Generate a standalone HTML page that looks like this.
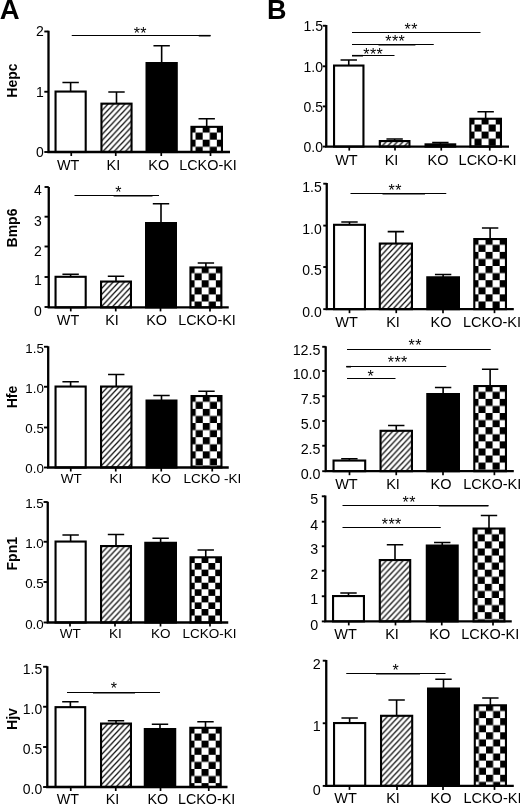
<!DOCTYPE html>
<html><head><meta charset="utf-8"><title>Figure</title>
<style>html,body{margin:0;padding:0;background:#fff;overflow:hidden}svg{display:block}text{font-family:"Liberation Sans", sans-serif;fill:#000}</style></head>
<body>
<svg width="520" height="805" viewBox="0 0 520 805">
<defs><pattern id="h0" patternUnits="userSpaceOnUse" x="101.45" y="105.15" width="5.6" height="6.0"><rect width="5.6" height="6.0" fill="#fff"/><path d="M-5.6,6.0 L5.6,-6.0 M0,6.0 L5.6,0 M0,12.0 L11.2,0" stroke="#111" stroke-width="1.3"/></pattern><pattern id="c0" patternUnits="userSpaceOnUse" x="188.52" y="125.52" width="14.16" height="14.16"><rect width="14.16" height="14.16" fill="#fff"/><rect width="7.08" height="7.08" fill="#000"/><rect x="7.08" y="7.08" width="7.08" height="7.08" fill="#000"/></pattern><pattern id="h1" patternUnits="userSpaceOnUse" x="379.8" y="142.55" width="5.6" height="6.0"><rect width="5.6" height="6.0" fill="#fff"/><path d="M-5.6,6.0 L5.6,-6.0 M0,6.0 L5.6,0 M0,12.0 L11.2,0" stroke="#111" stroke-width="1.3"/></pattern><pattern id="c1" patternUnits="userSpaceOnUse" x="467.42" y="117.42" width="14.16" height="14.16"><rect width="14.16" height="14.16" fill="#fff"/><rect width="7.08" height="7.08" fill="#000"/><rect x="7.08" y="7.08" width="7.08" height="7.08" fill="#000"/></pattern><pattern id="h2" patternUnits="userSpaceOnUse" x="101.05" y="283.05" width="5.6" height="6.0"><rect width="5.6" height="6.0" fill="#fff"/><path d="M-5.6,6.0 L5.6,-6.0 M0,6.0 L5.6,0 M0,12.0 L11.2,0" stroke="#111" stroke-width="1.3"/></pattern><pattern id="c2" patternUnits="userSpaceOnUse" x="187.52" y="266.12" width="14.16" height="14.16"><rect width="14.16" height="14.16" fill="#fff"/><rect width="7.08" height="7.08" fill="#000"/><rect x="7.08" y="7.08" width="7.08" height="7.08" fill="#000"/></pattern><pattern id="h3" patternUnits="userSpaceOnUse" x="379.8" y="245.05" width="5.6" height="6.0"><rect width="5.6" height="6.0" fill="#fff"/><path d="M-5.6,6.0 L5.6,-6.0 M0,6.0 L5.6,0 M0,12.0 L11.2,0" stroke="#111" stroke-width="1.3"/></pattern><pattern id="c3" patternUnits="userSpaceOnUse" x="471.37" y="237.72" width="14.16" height="14.16"><rect width="14.16" height="14.16" fill="#fff"/><rect width="7.08" height="7.08" fill="#000"/><rect x="7.08" y="7.08" width="7.08" height="7.08" fill="#000"/></pattern><pattern id="h4" patternUnits="userSpaceOnUse" x="101.05" y="388.05" width="5.6" height="6.0"><rect width="5.6" height="6.0" fill="#fff"/><path d="M-5.6,6.0 L5.6,-6.0 M0,6.0 L5.6,0 M0,12.0 L11.2,0" stroke="#111" stroke-width="1.3"/></pattern><pattern id="c4" patternUnits="userSpaceOnUse" x="188.62" y="394.72" width="14.16" height="14.16"><rect width="14.16" height="14.16" fill="#fff"/><rect width="7.08" height="7.08" fill="#000"/><rect x="7.08" y="7.08" width="7.08" height="7.08" fill="#000"/></pattern><pattern id="h5" patternUnits="userSpaceOnUse" x="380.55" y="432.3" width="5.6" height="6.0"><rect width="5.6" height="6.0" fill="#fff"/><path d="M-5.6,6.0 L5.6,-6.0 M0,6.0 L5.6,0 M0,12.0 L11.2,0" stroke="#111" stroke-width="1.3"/></pattern><pattern id="c5" patternUnits="userSpaceOnUse" x="471.37" y="384.72" width="14.16" height="14.16"><rect width="14.16" height="14.16" fill="#fff"/><rect width="7.08" height="7.08" fill="#000"/><rect x="7.08" y="7.08" width="7.08" height="7.08" fill="#000"/></pattern><pattern id="h6" patternUnits="userSpaceOnUse" x="101.05" y="547.55" width="5.6" height="6.0"><rect width="5.6" height="6.0" fill="#fff"/><path d="M-5.6,6.0 L5.6,-6.0 M0,6.0 L5.6,0 M0,12.0 L11.2,0" stroke="#111" stroke-width="1.3"/></pattern><pattern id="c6" patternUnits="userSpaceOnUse" x="187.85" y="556.49" width="13.7" height="13.12"><rect width="13.7" height="13.12" fill="#fff"/><rect width="6.85" height="6.56" fill="#000"/><rect x="6.85" y="6.56" width="6.85" height="6.56" fill="#000"/></pattern><pattern id="h7" patternUnits="userSpaceOnUse" x="379.8" y="561.55" width="5.6" height="6.0"><rect width="5.6" height="6.0" fill="#fff"/><path d="M-5.6,6.0 L5.6,-6.0 M0,6.0 L5.6,0 M0,12.0 L11.2,0" stroke="#111" stroke-width="1.3"/></pattern><pattern id="c7" patternUnits="userSpaceOnUse" x="470.62" y="527.22" width="14.16" height="14.16"><rect width="14.16" height="14.16" fill="#fff"/><rect width="7.08" height="7.08" fill="#000"/><rect x="7.08" y="7.08" width="7.08" height="7.08" fill="#000"/></pattern><pattern id="h8" patternUnits="userSpaceOnUse" x="101.05" y="725.05" width="5.6" height="6.0"><rect width="5.6" height="6.0" fill="#fff"/><path d="M-5.6,6.0 L5.6,-6.0 M0,6.0 L5.6,0 M0,12.0 L11.2,0" stroke="#111" stroke-width="1.3"/></pattern><pattern id="c8" patternUnits="userSpaceOnUse" x="187.37" y="726.47" width="14.16" height="14.16"><rect width="14.16" height="14.16" fill="#fff"/><rect width="7.08" height="7.08" fill="#000"/><rect x="7.08" y="7.08" width="7.08" height="7.08" fill="#000"/></pattern><pattern id="h9" patternUnits="userSpaceOnUse" x="381.05" y="717.3" width="5.6" height="6.0"><rect width="5.6" height="6.0" fill="#fff"/><path d="M-5.6,6.0 L5.6,-6.0 M0,6.0 L5.6,0 M0,12.0 L11.2,0" stroke="#111" stroke-width="1.3"/></pattern><pattern id="c9" patternUnits="userSpaceOnUse" x="471.87" y="703.97" width="14.16" height="14.16"><rect width="14.16" height="14.16" fill="#fff"/><rect width="7.08" height="7.08" fill="#000"/><rect x="7.08" y="7.08" width="7.08" height="7.08" fill="#000"/></pattern></defs>
<rect width="520" height="805" fill="#fff"/>
<text x="-0.3" y="18.7" font-size="27.5" font-weight="bold">A</text>
<text x="266.9" y="19.2" font-size="27" font-weight="bold">B</text>
<g id="A1"><path d="M70.62,91.55 V82.5 M62.42,82.5 H78.83" stroke="#000" stroke-width="1.6" fill="none"/><path d="M116.5,103.65 V92 M108.3,92 H124.7" stroke="#000" stroke-width="1.6" fill="none"/><path d="M161.65,63.05 V45.75 M153.45,45.75 H169.85" stroke="#000" stroke-width="1.6" fill="none"/><path d="M206.7,126.85 V118.75 M198.5,118.75 H214.9" stroke="#000" stroke-width="1.6" fill="none"/><rect x="55.55" y="91.55" width="30.15" height="60.45" fill="#fff" stroke="#000" stroke-width="2.1"/><rect x="101.45" y="103.65" width="30.1" height="48.35" fill="url(#h0)" stroke="#000" stroke-width="2.1"/><rect x="146.55" y="63.05" width="30.2" height="88.95" fill="#000" stroke="#000" stroke-width="2.1"/><rect x="191.45" y="126.85" width="30.5" height="25.15" fill="url(#c0)" stroke="#000" stroke-width="2.1"/><path d="M48.5,30.8 V152 H230" stroke="#000" stroke-width="2.3" fill="none"/><path d="M44.3,152 H48.5" stroke="#000" stroke-width="1.9"/><text x="43.7" y="156.81" font-size="14" text-anchor="end">0</text><path d="M44.3,91.75 H48.5" stroke="#000" stroke-width="1.9"/><text x="43.7" y="96.56" font-size="14" text-anchor="end">1</text><path d="M44.3,31.5 H48.5" stroke="#000" stroke-width="1.9"/><text x="43.7" y="36.31" font-size="14" text-anchor="end">2</text><path d="M71.25,152 V156" stroke="#000" stroke-width="1.7"/><path d="M115.75,152 V156" stroke="#000" stroke-width="1.7"/><path d="M161.25,152 V156" stroke="#000" stroke-width="1.7"/><path d="M210.5,152 V156" stroke="#000" stroke-width="1.7"/><text x="68.1" y="169.7" font-size="14.4" text-anchor="middle">WT</text><text x="113.4" y="169.7" font-size="14.4" text-anchor="middle">KI</text><text x="158.75" y="169.7" font-size="14.4" text-anchor="middle">KO</text><text x="208" y="169.7" font-size="14.4" text-anchor="middle">LCKO-KI</text><path d="M71.75,35.5 H210.5" stroke="#000" stroke-width="1.2"/><path d="M198.75,35.7 H210.5" stroke="#000" stroke-width="1.6"/><text x="140.3" y="38.5" font-size="16" letter-spacing="0.4" text-anchor="middle">**</text><text transform="translate(17.2,80.6) rotate(-90)" font-size="14" font-weight="bold" text-anchor="middle">Hepc</text></g>
<g id="B1"><path d="M348.75,65.55 V60 M340.55,60 H356.95" stroke="#000" stroke-width="1.6" fill="none"/><path d="M394.62,141.05 V139 M386.43,139 H402.82" stroke="#000" stroke-width="1.6" fill="none"/><path d="M440.38,144.35 V142.6 M432.18,142.6 H448.57" stroke="#000" stroke-width="1.6" fill="none"/><path d="M485.65,118.75 V111.75 M477.45,111.75 H493.85" stroke="#000" stroke-width="1.6" fill="none"/><rect x="334.05" y="65.55" width="29.4" height="81.05" fill="#fff" stroke="#000" stroke-width="2.1"/><rect x="379.8" y="141.05" width="29.65" height="5.55" fill="url(#h1)" stroke="#000" stroke-width="2.1"/><rect x="425.55" y="144.35" width="29.65" height="2.25" fill="#000" stroke="#000" stroke-width="2.1"/><rect x="470.35" y="118.75" width="30.6" height="27.85" fill="url(#c1)" stroke="#000" stroke-width="2.1"/><path d="M326.25,25 V146.6 H509" stroke="#000" stroke-width="2.3" fill="none"/><path d="M322.75,146.6 H326.25" stroke="#000" stroke-width="1.9"/><text x="322.95" y="152.21" font-size="14" text-anchor="end">0.0</text><path d="M322.75,106.4 H326.25" stroke="#000" stroke-width="1.9"/><text x="322.95" y="112.01" font-size="14" text-anchor="end">0.5</text><path d="M322.75,66.3 H326.25" stroke="#000" stroke-width="1.9"/><text x="322.95" y="71.91" font-size="14" text-anchor="end">1.0</text><path d="M322.75,25.75 H326.25" stroke="#000" stroke-width="1.9"/><text x="322.95" y="31.36" font-size="14" text-anchor="end">1.5</text><path d="M349.25,146.6 V150.6" stroke="#000" stroke-width="1.7"/><path d="M395,146.6 V150.6" stroke="#000" stroke-width="1.7"/><path d="M441.25,146.6 V150.6" stroke="#000" stroke-width="1.7"/><path d="M489.75,146.6 V150.6" stroke="#000" stroke-width="1.7"/><text x="346.4" y="164.7" font-size="14.5" text-anchor="middle">WT</text><text x="391.5" y="164.7" font-size="14.5" text-anchor="middle">KI</text><text x="438" y="164.7" font-size="14.5" text-anchor="middle">KO</text><text x="487.6" y="164.7" font-size="14.5" text-anchor="middle">LCKO-KI</text><path d="M352,32.5 H480.5" stroke="#000" stroke-width="1.2"/><path d="M352,44.5 H433.75" stroke="#000" stroke-width="1.2"/><path d="M378.5,44.7 H415.4" stroke="#000" stroke-width="1.6"/><path d="M352,55.5 H394.5" stroke="#000" stroke-width="1.2"/><path d="M352,55.7 H363" stroke="#000" stroke-width="1.6"/><text x="411.2" y="35.3" font-size="16" letter-spacing="0.4" text-anchor="middle">**</text><text x="395.2" y="46.6" font-size="16" letter-spacing="0.4" text-anchor="middle">***</text><text x="373.3" y="59.7" font-size="16" letter-spacing="0.4" text-anchor="middle">***</text></g>
<g id="A2"><path d="M70.62,276.8 V274.25 M62.42,274.25 H78.83" stroke="#000" stroke-width="1.6" fill="none"/><path d="M116,281.55 V276.25 M107.8,276.25 H124.2" stroke="#000" stroke-width="1.6" fill="none"/><path d="M161,223.05 V203.75 M152.8,203.75 H169.2" stroke="#000" stroke-width="1.6" fill="none"/><path d="M205.9,267.45 V263 M197.7,263 H214.1" stroke="#000" stroke-width="1.6" fill="none"/><rect x="55.55" y="276.8" width="30.15" height="30.6" fill="#fff" stroke="#000" stroke-width="2.1"/><rect x="101.05" y="281.55" width="29.9" height="25.85" fill="url(#h2)" stroke="#000" stroke-width="2.1"/><rect x="146.05" y="223.05" width="29.9" height="84.35" fill="#000" stroke="#000" stroke-width="2.1"/><rect x="190.45" y="267.45" width="30.9" height="39.95" fill="url(#c2)" stroke="#000" stroke-width="2.1"/><path d="M48.75,187 V307.4 H228.75" stroke="#000" stroke-width="2.3" fill="none"/><path d="M44.55,307 H48.75" stroke="#000" stroke-width="1.9"/><text x="41.85" y="315.51" font-size="14" text-anchor="end">0</text><path d="M44.55,277 H48.75" stroke="#000" stroke-width="1.9"/><text x="41.85" y="285.31" font-size="14" text-anchor="end">1</text><path d="M44.55,246.5 H48.75" stroke="#000" stroke-width="1.9"/><text x="41.85" y="255.71" font-size="14" text-anchor="end">2</text><path d="M44.55,216.7 H48.75" stroke="#000" stroke-width="1.9"/><text x="41.85" y="225.51" font-size="14" text-anchor="end">3</text><path d="M44.55,187 H48.75" stroke="#000" stroke-width="1.9"/><text x="41.85" y="194.81" font-size="14" text-anchor="end">4</text><path d="M70.75,307.4 V311.4" stroke="#000" stroke-width="1.7"/><path d="M115.75,307.4 V311.4" stroke="#000" stroke-width="1.7"/><path d="M160.5,307.4 V311.4" stroke="#000" stroke-width="1.7"/><path d="M210,307.4 V311.4" stroke="#000" stroke-width="1.7"/><text x="68" y="324.5" font-size="14.4" text-anchor="middle">WT</text><text x="112" y="324.5" font-size="14.4" text-anchor="middle">KI</text><text x="156.6" y="324.5" font-size="14.4" text-anchor="middle">KO</text><text x="207" y="324.5" font-size="14.4" text-anchor="middle">LCKO-KI</text><path d="M74.5,195.5 H159" stroke="#000" stroke-width="1.2"/><path d="M113.6,195.7 H152.5" stroke="#000" stroke-width="1.6"/><text x="118.6" y="197.7" font-size="16" letter-spacing="0.4" text-anchor="middle">*</text><text transform="translate(17.2,228) rotate(-90)" font-size="14" font-weight="bold" text-anchor="middle">Bmp6</text></g>
<g id="B2"><path d="M349.5,224.8 V222 M341.3,222 H357.7" stroke="#000" stroke-width="1.6" fill="none"/><path d="M395.88,243.55 V231.6 M387.68,231.6 H404.07" stroke="#000" stroke-width="1.6" fill="none"/><path d="M443.12,277.3 V274.5 M434.93,274.5 H451.32" stroke="#000" stroke-width="1.6" fill="none"/><path d="M490.12,239.05 V228 M481.93,228 H498.32" stroke="#000" stroke-width="1.6" fill="none"/><rect x="334.05" y="224.8" width="30.9" height="84.35" fill="#fff" stroke="#000" stroke-width="2.1"/><rect x="379.8" y="243.55" width="32.15" height="65.6" fill="url(#h3)" stroke="#000" stroke-width="2.1"/><rect x="427.3" y="277.3" width="31.65" height="31.85" fill="#000" stroke="#000" stroke-width="2.1"/><rect x="474.3" y="239.05" width="31.65" height="70.1" fill="url(#c3)" stroke="#000" stroke-width="2.1"/><path d="M326.75,183 V309.15 H513.8" stroke="#000" stroke-width="2.3" fill="none"/><path d="M323.25,309.15 H326.75" stroke="#000" stroke-width="1.9"/><text x="321.75" y="317.16" font-size="14" text-anchor="end">0.0</text><path d="M323.25,267 H326.75" stroke="#000" stroke-width="1.9"/><text x="321.75" y="275.41" font-size="14" text-anchor="end">0.5</text><path d="M323.25,225.6 H326.75" stroke="#000" stroke-width="1.9"/><text x="321.75" y="234.01" font-size="14" text-anchor="end">1.0</text><path d="M323.25,183.7 H326.75" stroke="#000" stroke-width="1.9"/><text x="321.75" y="192.41" font-size="14" text-anchor="end">1.5</text><path d="M349.5,309.15 V313.15" stroke="#000" stroke-width="1.7"/><path d="M396.25,309.15 V313.15" stroke="#000" stroke-width="1.7"/><path d="M443,309.15 V313.15" stroke="#000" stroke-width="1.7"/><path d="M494.5,309.15 V313.15" stroke="#000" stroke-width="1.7"/><text x="346.6" y="326.7" font-size="14.5" text-anchor="middle">WT</text><text x="393" y="326.7" font-size="14.5" text-anchor="middle">KI</text><text x="441" y="326.7" font-size="14.5" text-anchor="middle">KO</text><text x="492" y="326.7" font-size="14.5" text-anchor="middle">LCKO-KI</text><path d="M350.5,193.5 H446.25" stroke="#000" stroke-width="1.2"/><path d="M382.5,193.7 H425" stroke="#000" stroke-width="1.6"/><text x="395.2" y="195.7" font-size="16" letter-spacing="0.4" text-anchor="middle">**</text></g>
<g id="A3"><path d="M70.62,386.55 V381.75 M62.42,381.75 H78.83" stroke="#000" stroke-width="1.6" fill="none"/><path d="M116.25,386.55 V374.5 M108.05,374.5 H124.45" stroke="#000" stroke-width="1.6" fill="none"/><path d="M161.5,400.55 V395.5 M153.3,395.5 H169.7" stroke="#000" stroke-width="1.6" fill="none"/><path d="M206.5,396.05 V391.25 M198.3,391.25 H214.7" stroke="#000" stroke-width="1.6" fill="none"/><rect x="55.55" y="386.55" width="30.15" height="80.95" fill="#fff" stroke="#000" stroke-width="2.1"/><rect x="101.05" y="386.55" width="30.4" height="80.95" fill="url(#h4)" stroke="#000" stroke-width="2.1"/><rect x="146.55" y="400.55" width="29.9" height="66.95" fill="#000" stroke="#000" stroke-width="2.1"/><rect x="191.55" y="396.05" width="29.9" height="71.45" fill="url(#c4)" stroke="#000" stroke-width="2.1"/><path d="M48.2,346.25 V467.5 H228.75" stroke="#000" stroke-width="2.3" fill="none"/><path d="M44,467.5 H48.2" stroke="#000" stroke-width="1.9"/><text x="43.8" y="473.46" font-size="13.3" text-anchor="end">0.0</text><path d="M44,427.5 H48.2" stroke="#000" stroke-width="1.9"/><text x="43.8" y="433.46" font-size="13.3" text-anchor="end">0.5</text><path d="M44,386.75 H48.2" stroke="#000" stroke-width="1.9"/><text x="43.8" y="392.71" font-size="13.3" text-anchor="end">1.0</text><path d="M44,346.75 H48.2" stroke="#000" stroke-width="1.9"/><text x="43.8" y="352.71" font-size="13.3" text-anchor="end">1.5</text><path d="M70.75,467.5 V471.5" stroke="#000" stroke-width="1.7"/><path d="M115.75,467.5 V471.5" stroke="#000" stroke-width="1.7"/><path d="M161.25,467.5 V471.5" stroke="#000" stroke-width="1.7"/><path d="M212.25,467.5 V471.5" stroke="#000" stroke-width="1.7"/><text x="71.25" y="482.75" font-size="13.5" text-anchor="middle">WT</text><text x="116" y="482.75" font-size="13.5" text-anchor="middle">KI</text><text x="161.25" y="482.75" font-size="13.5" text-anchor="middle">KO</text><text x="212.5" y="482.75" font-size="13.5" text-anchor="middle">LCKO -KI</text><text transform="translate(17.2,397) rotate(-90)" font-size="14" font-weight="bold" text-anchor="middle">Hfe</text></g>
<g id="B3"><path d="M349.38,460.55 V458.7 M341.18,458.7 H357.57" stroke="#000" stroke-width="1.6" fill="none"/><path d="M396.25,430.8 V425.5 M388.05,425.5 H404.45" stroke="#000" stroke-width="1.6" fill="none"/><path d="M443.12,394.05 V387.5 M434.93,387.5 H451.32" stroke="#000" stroke-width="1.6" fill="none"/><path d="M490.12,386.05 V369.25 M481.93,369.25 H498.32" stroke="#000" stroke-width="1.6" fill="none"/><rect x="333.55" y="460.55" width="31.65" height="10.65" fill="#fff" stroke="#000" stroke-width="2.1"/><rect x="380.55" y="430.8" width="31.4" height="40.4" fill="url(#h5)" stroke="#000" stroke-width="2.1"/><rect x="427.3" y="394.05" width="31.65" height="77.15" fill="#000" stroke="#000" stroke-width="2.1"/><rect x="474.3" y="386.05" width="31.65" height="85.15" fill="url(#c5)" stroke="#000" stroke-width="2.1"/><path d="M325.7,346.25 V471.2 H513.8" stroke="#000" stroke-width="2.3" fill="none"/><path d="M322.2,471.2 H325.7" stroke="#000" stroke-width="1.9"/><text x="320.5" y="478.72" font-size="14.3" text-anchor="end">0.0</text><path d="M322.2,445.75 H325.7" stroke="#000" stroke-width="1.9"/><text x="320.5" y="453.77" font-size="14.3" text-anchor="end">2.5</text><path d="M322.2,421 H325.7" stroke="#000" stroke-width="1.9"/><text x="320.5" y="429.02" font-size="14.3" text-anchor="end">5.0</text><path d="M322.2,396.25 H325.7" stroke="#000" stroke-width="1.9"/><text x="320.5" y="404.27" font-size="14.3" text-anchor="end">7.5</text><path d="M322.2,371 H325.7" stroke="#000" stroke-width="1.9"/><text x="320.5" y="379.32" font-size="14.3" text-anchor="end">10.0</text><path d="M322.2,346.8 H325.7" stroke="#000" stroke-width="1.9"/><text x="320.5" y="354.52" font-size="14.3" text-anchor="end">12.5</text><path d="M349.5,471.2 V475.2" stroke="#000" stroke-width="1.7"/><path d="M396.25,471.2 V475.2" stroke="#000" stroke-width="1.7"/><path d="M443,471.2 V475.2" stroke="#000" stroke-width="1.7"/><path d="M494.4,471.2 V475.2" stroke="#000" stroke-width="1.7"/><text x="346.4" y="488.7" font-size="14.5" text-anchor="middle">WT</text><text x="393" y="488.7" font-size="14.5" text-anchor="middle">KI</text><text x="441" y="488.7" font-size="14.5" text-anchor="middle">KO</text><text x="492.3" y="488.7" font-size="14.5" text-anchor="middle">LCKO-KI</text><path d="M347,349.5 H490.75" stroke="#000" stroke-width="1.2"/><path d="M346.3,366.5 H446.25" stroke="#000" stroke-width="1.2"/><path d="M346.3,366.7 H351" stroke="#000" stroke-width="1.6"/><path d="M347,378.5 H395.5" stroke="#000" stroke-width="1.2"/><text x="415.2" y="350.7" font-size="16" letter-spacing="0.4" text-anchor="middle">**</text><text x="397.7" y="367.7" font-size="16" letter-spacing="0.4" text-anchor="middle">***</text><text x="370.8" y="381.5" font-size="16" letter-spacing="0.4" text-anchor="middle">*</text></g>
<g id="A4"><path d="M70.62,541.55 V535 M62.42,535 H78.83" stroke="#000" stroke-width="1.6" fill="none"/><path d="M116,546.05 V534.5 M107.8,534.5 H124.2" stroke="#000" stroke-width="1.6" fill="none"/><path d="M160.62,542.8 V538.25 M152.43,538.25 H168.82" stroke="#000" stroke-width="1.6" fill="none"/><path d="M205.75,557.3 V550 M197.55,550 H213.95" stroke="#000" stroke-width="1.6" fill="none"/><rect x="55.55" y="541.55" width="30.15" height="80.95" fill="#fff" stroke="#000" stroke-width="2.1"/><rect x="101.05" y="546.05" width="29.9" height="76.45" fill="url(#h6)" stroke="#000" stroke-width="2.1"/><rect x="145.3" y="542.8" width="30.65" height="79.7" fill="#000" stroke="#000" stroke-width="2.1"/><rect x="190.55" y="557.3" width="30.4" height="65.2" fill="url(#c6)" stroke="#000" stroke-width="2.1"/><path d="M47.75,501.75 V622.5 H228.25" stroke="#000" stroke-width="2.3" fill="none"/><path d="M43.55,622.5 H47.75" stroke="#000" stroke-width="1.9"/><text x="43.65" y="628.96" font-size="13.3" text-anchor="end">0.0</text><path d="M43.55,582 H47.75" stroke="#000" stroke-width="1.9"/><text x="43.65" y="588.46" font-size="13.3" text-anchor="end">0.5</text><path d="M43.55,541.75 H47.75" stroke="#000" stroke-width="1.9"/><text x="43.65" y="548.21" font-size="13.3" text-anchor="end">1.0</text><path d="M43.55,502 H47.75" stroke="#000" stroke-width="1.9"/><text x="43.65" y="508.46" font-size="13.3" text-anchor="end">1.5</text><path d="M70,622.5 V626.5" stroke="#000" stroke-width="1.7"/><path d="M115,622.5 V626.5" stroke="#000" stroke-width="1.7"/><path d="M160.5,622.5 V626.5" stroke="#000" stroke-width="1.7"/><path d="M210,622.5 V626.5" stroke="#000" stroke-width="1.7"/><text x="70.25" y="638.1" font-size="13.5" text-anchor="middle">WT</text><text x="115.4" y="638.1" font-size="13.5" text-anchor="middle">KI</text><text x="160.75" y="638.1" font-size="13.5" text-anchor="middle">KO</text><text x="209.6" y="638.1" font-size="13.5" text-anchor="middle">LCKO-KI</text><text transform="translate(17.2,553.75) rotate(-90)" font-size="14" font-weight="bold" text-anchor="middle">Fpn1</text></g>
<g id="B4"><path d="M348.5,596.05 V593 M340.3,593 H356.7" stroke="#000" stroke-width="1.6" fill="none"/><path d="M395,560.05 V544.75 M386.8,544.75 H403.2" stroke="#000" stroke-width="1.6" fill="none"/><path d="M442.25,545.55 V542.5 M434.05,542.5 H450.45" stroke="#000" stroke-width="1.6" fill="none"/><path d="M489,528.55 V515.5 M480.8,515.5 H497.2" stroke="#000" stroke-width="1.6" fill="none"/><rect x="333.05" y="596.05" width="30.9" height="25.35" fill="#fff" stroke="#000" stroke-width="2.1"/><rect x="379.8" y="560.05" width="30.4" height="61.35" fill="url(#h7)" stroke="#000" stroke-width="2.1"/><rect x="426.8" y="545.55" width="30.9" height="75.85" fill="#000" stroke="#000" stroke-width="2.1"/><rect x="473.55" y="528.55" width="30.9" height="92.85" fill="url(#c7)" stroke="#000" stroke-width="2.1"/><path d="M325.3,495.6 V621.4 H511.75" stroke="#000" stroke-width="2.3" fill="none"/><path d="M321.8,621.4 H325.3" stroke="#000" stroke-width="1.9"/><text x="318.2" y="629.92" font-size="14.3" text-anchor="end">0</text><path d="M321.8,596.25 H325.3" stroke="#000" stroke-width="1.9"/><text x="318.2" y="604.47" font-size="14.3" text-anchor="end">1</text><path d="M321.8,570.75 H325.3" stroke="#000" stroke-width="1.9"/><text x="318.2" y="578.97" font-size="14.3" text-anchor="end">2</text><path d="M321.8,546.25 H325.3" stroke="#000" stroke-width="1.9"/><text x="318.2" y="554.47" font-size="14.3" text-anchor="end">3</text><path d="M321.8,521.7 H325.3" stroke="#000" stroke-width="1.9"/><text x="318.2" y="529.92" font-size="14.3" text-anchor="end">4</text><path d="M321.8,496.3 H325.3" stroke="#000" stroke-width="1.9"/><text x="318.2" y="504.32" font-size="14.3" text-anchor="end">5</text><path d="M348.75,621.4 V625.4" stroke="#000" stroke-width="1.7"/><path d="M395.5,621.4 V625.4" stroke="#000" stroke-width="1.7"/><path d="M441.75,621.4 V625.4" stroke="#000" stroke-width="1.7"/><path d="M493,621.4 V625.4" stroke="#000" stroke-width="1.7"/><text x="345.6" y="638.75" font-size="14.5" text-anchor="middle">WT</text><text x="392" y="638.75" font-size="14.5" text-anchor="middle">KI</text><text x="439.75" y="638.75" font-size="14.5" text-anchor="middle">KO</text><text x="490.25" y="638.75" font-size="14.5" text-anchor="middle">LCKO-KI</text><path d="M342.5,505.5 H488.4" stroke="#000" stroke-width="1.2"/><path d="M438.75,505.7 H488.4" stroke="#000" stroke-width="1.6"/><path d="M342.5,527.5 H440.75" stroke="#000" stroke-width="1.2"/><text x="409.2" y="507.7" font-size="16" letter-spacing="0.4" text-anchor="middle">**</text><text x="391.7" y="529.7" font-size="16" letter-spacing="0.4" text-anchor="middle">***</text></g>
<g id="A5"><path d="M70.38,707.15 V701.7 M62.17,701.7 H78.58" stroke="#000" stroke-width="1.6" fill="none"/><path d="M116,723.55 V720.75 M107.8,720.75 H124.2" stroke="#000" stroke-width="1.6" fill="none"/><path d="M160,729.05 V724.25 M151.8,724.25 H168.2" stroke="#000" stroke-width="1.6" fill="none"/><path d="M205.5,727.8 V721.75 M197.3,721.75 H213.7" stroke="#000" stroke-width="1.6" fill="none"/><rect x="55.55" y="707.15" width="29.65" height="79.85" fill="#fff" stroke="#000" stroke-width="2.1"/><rect x="101.05" y="723.55" width="29.9" height="63.45" fill="url(#h8)" stroke="#000" stroke-width="2.1"/><rect x="144.8" y="729.05" width="30.4" height="57.95" fill="#000" stroke="#000" stroke-width="2.1"/><rect x="190.3" y="727.8" width="30.4" height="59.2" fill="url(#c8)" stroke="#000" stroke-width="2.1"/><path d="M47.3,666.25 V787 H227.5" stroke="#000" stroke-width="2.3" fill="none"/><path d="M43.1,787 H47.3" stroke="#000" stroke-width="1.9"/><text x="42.3" y="793.91" font-size="14" text-anchor="end">0.0</text><path d="M43.1,747 H47.3" stroke="#000" stroke-width="1.9"/><text x="42.3" y="753.91" font-size="14" text-anchor="end">0.5</text><path d="M43.1,706.75 H47.3" stroke="#000" stroke-width="1.9"/><text x="42.3" y="713.66" font-size="14" text-anchor="end">1.0</text><path d="M43.1,666.75 H47.3" stroke="#000" stroke-width="1.9"/><text x="42.3" y="673.66" font-size="14" text-anchor="end">1.5</text><path d="M70.75,787 V791" stroke="#000" stroke-width="1.7"/><path d="M115.75,787 V791" stroke="#000" stroke-width="1.7"/><path d="M160.5,787 V791" stroke="#000" stroke-width="1.7"/><path d="M208.75,787 V791" stroke="#000" stroke-width="1.7"/><text x="67.9" y="804.4" font-size="14.3" text-anchor="middle">WT</text><text x="112.5" y="804.4" font-size="14.3" text-anchor="middle">KI</text><text x="157.75" y="804.4" font-size="14.3" text-anchor="middle">KO</text><text x="206.6" y="804.4" font-size="14.3" text-anchor="middle">LCKO-KI</text><path d="M67,692.5 H160" stroke="#000" stroke-width="1.2"/><path d="M93,692.7 H135" stroke="#000" stroke-width="1.6"/><text x="114.1" y="694" font-size="16" letter-spacing="0.4" text-anchor="middle">*</text><text transform="translate(17.2,719) rotate(-90)" font-size="14" font-weight="bold" text-anchor="middle">Hjv</text></g>
<g id="B5"><path d="M349.62,723.05 V718 M341.43,718 H357.82" stroke="#000" stroke-width="1.6" fill="none"/><path d="M396.62,715.8 V700 M388.43,700 H404.82" stroke="#000" stroke-width="1.6" fill="none"/><path d="M443.5,688.55 V679.25 M435.3,679.25 H451.7" stroke="#000" stroke-width="1.6" fill="none"/><path d="M490.38,705.3 V698 M482.18,698 H498.57" stroke="#000" stroke-width="1.6" fill="none"/><rect x="334.05" y="723.05" width="31.15" height="62.85" fill="#fff" stroke="#000" stroke-width="2.1"/><rect x="381.05" y="715.8" width="31.15" height="70.1" fill="url(#h9)" stroke="#000" stroke-width="2.1"/><rect x="428.05" y="688.55" width="30.9" height="97.35" fill="#000" stroke="#000" stroke-width="2.1"/><rect x="474.8" y="705.3" width="31.15" height="80.6" fill="url(#c9)" stroke="#000" stroke-width="2.1"/><path d="M326.25,660 V785.9 H513.8" stroke="#000" stroke-width="2.3" fill="none"/><path d="M322.75,785.9 H326.25" stroke="#000" stroke-width="1.9"/><text x="320.75" y="794.72" font-size="14.3" text-anchor="end">0</text><path d="M322.75,723.25 H326.25" stroke="#000" stroke-width="1.9"/><text x="320.75" y="731.27" font-size="14.3" text-anchor="end">1</text><path d="M322.75,660.7 H326.25" stroke="#000" stroke-width="1.9"/><text x="320.75" y="669.12" font-size="14.3" text-anchor="end">2</text><path d="M349.5,785.9 V789.9" stroke="#000" stroke-width="1.7"/><path d="M397,785.9 V789.9" stroke="#000" stroke-width="1.7"/><path d="M443,785.9 V789.9" stroke="#000" stroke-width="1.7"/><path d="M494.5,785.9 V789.9" stroke="#000" stroke-width="1.7"/><text x="345.6" y="802.9" font-size="14.5" text-anchor="middle">WT</text><text x="393" y="802.9" font-size="14.5" text-anchor="middle">KI</text><text x="441" y="802.9" font-size="14.5" text-anchor="middle">KO</text><text x="492.4" y="802.9" font-size="14.5" text-anchor="middle">LCKO-KI</text><path d="M346.25,673.5 H445.5" stroke="#000" stroke-width="1.2"/><path d="M376,673.7 H420" stroke="#000" stroke-width="1.6"/><text x="395.8" y="675.7" font-size="16" letter-spacing="0.4" text-anchor="middle">*</text></g>
</svg>
</body></html>
